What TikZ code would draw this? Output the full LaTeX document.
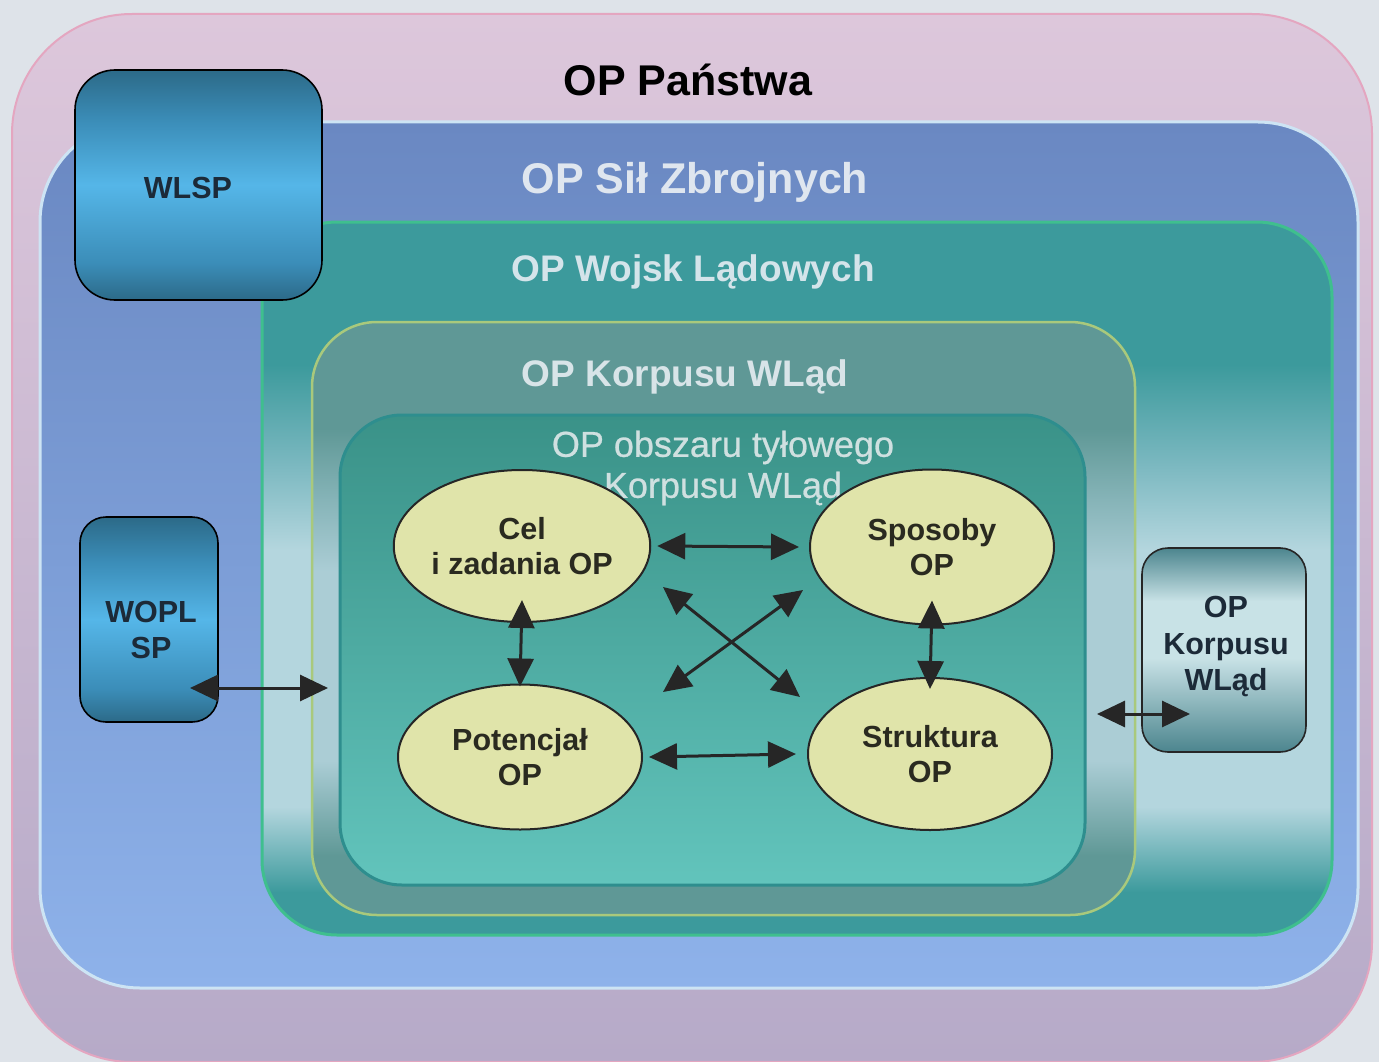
\documentclass[tikz,border=0pt]{standalone}
\usepackage{fontspec}
\setmainfont{Liberation Sans}
\newfontfamily\medfont[FakeBold=0.7]{Liberation Sans}
\usetikzlibrary{shapes.geometric,arrows.meta}
\definecolor{bg}{HTML}{DEE3E9}
\definecolor{pinkT}{HTML}{DDC7DB}
\definecolor{pinkB}{HTML}{B6AAC8}
\definecolor{pinkE}{HTML}{E4A6C0}
\definecolor{blueT}{HTML}{6A88C2}
\definecolor{blueB}{HTML}{8EB2EA}
\definecolor{blueE}{HTML}{CDE4F4}
\definecolor{tealA}{HTML}{3C9A9C}
\definecolor{tealM}{HTML}{7BB8C0}
\definecolor{tealP}{HTML}{B4D6DE}
\definecolor{tealE}{HTML}{3FBF8E}
\definecolor{korA}{HTML}{5F9896}
\definecolor{korM}{HTML}{86B4B8}
\definecolor{korP}{HTML}{ABCDD5}
\definecolor{korE}{HTML}{A9C97C}
\definecolor{inT}{HTML}{3A9288}
\definecolor{inB}{HTML}{62C4BC}
\definecolor{inE}{HTML}{2E8E8E}
\definecolor{boxD}{HTML}{2C6A88}
\definecolor{boxM}{HTML}{3B8DB8}
\definecolor{boxL}{HTML}{55B6E8}
\definecolor{rbD}{HTML}{4C858E}
\definecolor{rbL}{HTML}{C8E2E6}
\definecolor{ell}{HTML}{E0E4AA}
\definecolor{ink}{HTML}{262626}
\definecolor{boxtxt}{HTML}{1C2A38}
\definecolor{elltxt}{HTML}{2A2A20}
\definecolor{tA}{HTML}{DFE6EF}
\definecolor{tB}{HTML}{D4E4EA}
\definecolor{tC}{HTML}{D8E4E8}
\definecolor{tD}{HTML}{CFE0E0}
\pgfdeclareverticalshading{tealsh}{100bp}{color(0bp)=(tealA); color(25bp)=(tealA); color(28bp)=(tealA); color(34bp)=(tealP); color(52bp)=(tealP); color(58bp)=(tealM); color(65bp)=(tealA); color(75bp)=(tealA); color(100bp)=(tealA)}
\pgfdeclareverticalshading{korsh}{100bp}{color(0bp)=(korA); color(25bp)=(korA); color(30bp)=(korA); color(38bp)=(korP); color(54bp)=(korP); color(60bp)=(korM); color(66bp)=(korA); color(75bp)=(korA); color(100bp)=(korA)}
\pgfdeclareverticalshading{boxsh}{100bp}{color(0bp)=(boxD); color(25bp)=(boxD); color(33bp)=(boxM); color(50bp)=(boxL); color(64bp)=(boxM); color(75bp)=(boxD); color(100bp)=(boxD)}
\pgfdeclareverticalshading{rbsh}{100bp}{color(0bp)=(rbD); color(25bp)=(rbD); color(48bp)=(rbL); color(62bp)=(rbL); color(75bp)=(rbD); color(100bp)=(rbD)}
\begin{document}
\begin{tikzpicture}[x=1pt,y=-1pt,
  ttl/.style={inner sep=0pt, font=\bfseries\fontsize{43}{48}\selectfont},
  ttlb/.style={inner sep=0pt, font=\bfseries\fontsize{37}{42}\selectfont},
  bx/.style={rectangle, draw=black, line width=1.6pt, inner sep=0pt},
  bxt/.style={inner sep=0pt, align=center, text=boxtxt, font=\bfseries\fontsize{30.5}{36.5}\selectfont},
  el/.style={ellipse, draw=ink, line width=2pt, fill=ell, inner sep=0pt, align=center, minimum width=244pt, text=elltxt, font=\bfseries\fontsize{30.5}{35}\selectfont},
  dbl/.style={draw=ink, line width=3pt, {Triangle[length=28pt,width=26pt]}-{Triangle[length=28pt,width=26pt]}}
]
\useasboundingbox (0,0) rectangle (1379,1062);
\fill[bg] (0,0) rectangle (1379,1062);
% outer layers
\shade[top color=pinkT, bottom color=pinkB, rounded corners=120pt] (12,14) rectangle (1372,1062);
\draw[pinkE, line width=2pt, rounded corners=120pt] (12,14) rectangle (1372,1062);
\shade[top color=blueT, bottom color=blueB, rounded corners=100pt] (40,122) rectangle (1358,988);
\draw[blueE, line width=3pt, rounded corners=100pt] (40,122) rectangle (1358,988);
\shade[shading=tealsh, rounded corners=75pt] (262,222) rectangle (1332,935);
\draw[tealE, line width=3pt, rounded corners=75pt] (262,222) rectangle (1332,935);
\shade[shading=korsh, rounded corners=65pt] (312,322) rectangle (1135,915);
\draw[korE, line width=2.5pt, rounded corners=65pt] (312,322) rectangle (1135,915);
\shade[top color=inT, bottom color=inB, rounded corners=62pt] (340,415) rectangle (1085,885);
\draw[inE, line width=3pt, rounded corners=62pt] (340,415) rectangle (1085,885);
% titles
\node[ttl, text=black] (tpan) at (688,80) {OP Państwa};
\node[ttl, text=tA] (tsz) at (695,182) {OP Sił Zbrojnych};
\node[ttlb, text=tB] (twl) at (693,272) {OP Wojsk Lądowych};
\node[ttlb, text=tC] (tkor) at (685,377) {OP Korpusu WLąd};
\node[inner sep=0pt, align=center, text=tD, font=\medfont\fontsize{36}{41}\selectfont] (tobs) at (723,468) {OP obszaru tyłowego\\Korpusu WLąd};
% side boxes
\node[bx, shade, shading=boxsh, rounded corners=40pt, minimum width=247pt, minimum height=230pt] (wlsp) at (198.5,185) {};
\node[bxt] (wlspt) at (188,188) {WLSP};
\node[bx, shade, shading=boxsh, rounded corners=26pt, minimum width=138pt, minimum height=205pt] (wopl) at (149,619.5) {};
\node[bxt] (woplt) at (151,630) {WOPL\\SP};
\node[bx, draw=ink, shade, shading=rbsh, rounded corners=26pt, minimum width=164pt, minimum height=204pt] (rbox) at (1224,650) {};
\node[bxt] (rboxt) at (1226,647) {OP\\Korpusu\\WLąd};
% ellipses
\node[el, minimum height=152pt] (cel) at (522,546) {Cel\\i zadania OP};
\node[el, minimum height=155pt] (spo) at (932,547) {Sposoby\\OP};
\node[el, minimum height=145pt] (pot) at (520,757) {Potencjał\\OP};
\node[el, minimum height=152pt] (str) at (930,754) {Struktura\\OP};
% connectors
\draw[dbl] ([xshift=6pt]cel.east) -- ([xshift=-10pt]spo.west);
\draw[dbl] ([xshift=6pt]pot.east) -- ([xshift=-11pt]str.west);
\draw[dbl] ([yshift=23pt]cel.south) -- ([yshift=-3pt]pot.north);
\draw[dbl] ([yshift=25pt]spo.south) -- ([yshift=-12pt]str.north);
\coordinate (d1a) at (663,587);
\coordinate (d1b) at (800,697);
\coordinate (d2a) at (663,692);
\coordinate (d2b) at (803,590);
\draw[dbl] (d1a) -- (d1b);
\draw[dbl] (d2a) -- (d2b);
\coordinate (wa) at (190,688);
\coordinate (wb) at (328,688);
\draw[dbl] (wa) -- (wb);
\coordinate (ra) at (1097,714);
\coordinate (rb) at (1190,714);
\draw[dbl] (ra) -- (rb);
\end{tikzpicture}
\end{document}
